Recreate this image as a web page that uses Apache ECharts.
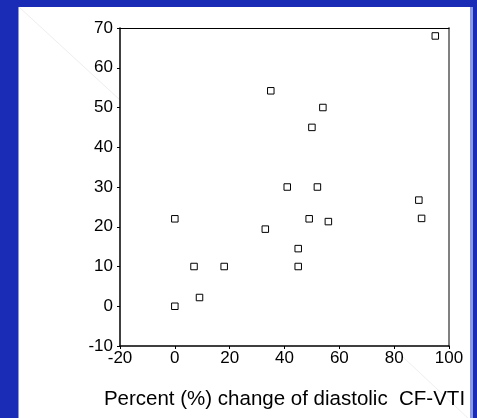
<!DOCTYPE html>
<html>
<head>
<meta charset="utf-8">
<script src="https://cdn.jsdelivr.net/npm/echarts@6/dist/echarts.min.js"></script>
<style>
  html, body { margin: 0; padding: 0; background: #1a2cb5; }
  #main { width: 477px; height: 418px; }
</style>
</head>
<body>
<div id="main"></div>
<script>
// percent change of diastolic CF-VTI (x) against the other measure (y)
var xValues = [35, 54, 50, 41, 52, 0, 49, 56, 33, 45, 7, 18, 45, 9, 0, 95, 89, 90];
var yValues = [54.2, 50, 45, 30, 30, 22, 22, 21.3, 19.4, 14.5, 10, 10, 10, 2.2, 0, 68, 26.7, 22.1];
var xTicks = [-20, 0, 20, 40, 60, 80, 100];
var yTicks = [-10, 0, 10, 20, 30, 40, 50, 60, 70];
var xName = 'Percent (%) change of diastolic  CF-VTI';

var points = [];
for (var i = 0; i < xValues.length; i++) {
    points.push([xValues[i], yValues[i]]);
}

var myChart = echarts.init(document.getElementById('main'));
var font = 'Arial, "Liberation Sans", sans-serif';

var option = {
    backgroundColor: '#1a2cb5',
    animation: false,
    graphic: [
        // white slide panel with pale edge
        { type: 'rect', z: -20, shape: { x: 18, y: 7, width: 455, height: 420 }, style: { fill: '#8a98e6' } },
        { type: 'rect', z: -19, shape: { x: 19, y: 7, width: 451, height: 420 }, style: { fill: '#ffffff' } },
        { type: 'line', z: -18, shape: { x1: 19, y1: 7, x2: 120, y2: 100 }, style: { stroke: '#eeeeee', lineWidth: 1 } },
        { type: 'line', z: -18, shape: { x1: 403, y1: 357, x2: 470, y2: 420 }, style: { stroke: '#eeeeee', lineWidth: 1 } }
    ],
    grid: { left: 120, top: 28, right: 28, bottom: 72 },
    xAxis: [{
        type: 'value',
        min: xTicks[0],
        max: xTicks[xTicks.length - 1],
        interval: 20,
        position: 'bottom',
        splitLine: { show: false },
        axisLine: { onZero: false, lineStyle: { color: '#000', width: 1.5 } },
        axisTick: { length: 3, lineStyle: { color: '#000' } },
        axisLabel: { color: '#000', fontSize: 17, fontFamily: font, margin: 4 },
        name: xName,
        nameLocation: 'middle',
        nameGap: 43,
        nameTextStyle: { color: '#000', fontSize: 20.5, fontFamily: font }
    }, {
        type: 'value',
        min: xTicks[0],
        max: xTicks[xTicks.length - 1],
        position: 'top',
        splitLine: { show: false },
        axisLine: { onZero: false, lineStyle: { color: '#000', width: 1 } },
        axisTick: { show: false },
        axisLabel: { show: false }
    }],
    yAxis: [{
        type: 'value',
        min: yTicks[0],
        max: yTicks[yTicks.length - 1],
        interval: 10,
        position: 'left',
        splitLine: { show: false },
        axisLine: { show: true, onZero: false, lineStyle: { color: '#000', width: 1.5 } },
        axisTick: { show: true, length: 3, lineStyle: { color: '#000' } },
        axisLabel: { color: '#000', fontSize: 17, fontFamily: font, margin: 7 }
    }, {
        type: 'value',
        min: yTicks[0],
        max: yTicks[yTicks.length - 1],
        position: 'right',
        splitLine: { show: false },
        axisLine: { show: true, onZero: false, lineStyle: { color: '#808080', width: 2 } },
        axisTick: { show: false },
        axisLabel: { show: false }
    }],
    series: [{
        type: 'scatter',
        data: points,
        symbol: 'rect',
        symbolSize: 6.5,
        itemStyle: { color: '#ffffff', borderColor: '#000', borderWidth: 1, opacity: 1 }
    }]
};

myChart.setOption(option);
</script>
</body>
</html>
